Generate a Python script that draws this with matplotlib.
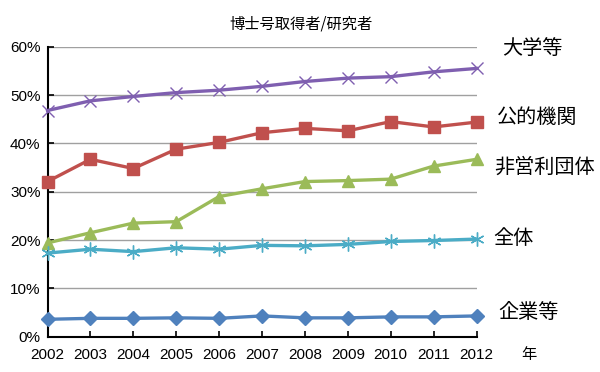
import matplotlib
matplotlib.use("Agg")
import matplotlib.pyplot as plt
from matplotlib.ticker import PercentFormatter

years = [2002, 2003, 2004, 2005, 2006, 2007, 2008, 2009, 2010, 2011, 2012]
univ = [46.8, 48.8, 49.7, 50.5, 51.0, 51.8, 52.8, 53.5, 53.8, 54.8, 55.5]
public = [32.1, 36.7, 34.8, 38.8, 40.2, 42.2, 43.1, 42.6, 44.5, 43.4, 44.4]
nonprofit = [19.4, 21.5, 23.5, 23.8, 29.0, 30.6, 32.1, 32.3, 32.6, 35.3, 36.7]
total = [17.3, 18.1, 17.6, 18.4, 18.1, 18.9, 18.8, 19.1, 19.7, 19.9, 20.2]
company = [3.6, 3.8, 3.8, 3.9, 3.8, 4.3, 3.9, 3.9, 4.1, 4.1, 4.3]

labels = ["大学等", "公的機関", "非営利団体", "全体", "企業等"]
title = "博士号取得者/研究者"
xlabel = "年"
yticks = [0, 10, 20, 30, 40, 50, 60]

W, H = 600, 372
fig = plt.figure(figsize=(W / 100, H / 100), dpi=100)
ax = fig.add_axes([47.5 / W, 1 - 336.7 / H, (476.5 - 47.5) / W, (336.7 - 46.7) / H])

cjk = ["Noto Sans CJK JP", "DejaVu Sans"]
num = ["Liberation Sans", "DejaVu Sans"]

series = [
    (univ, "#7F5FB0", "x", 9),
    (public, "#C0504D", "s", 8),
    (nonprofit, "#9BBB59", "^", 9),
    (total, "#4BACC6", (6, 2, 0), 10),
    (company, "#4F81BD", "D", 7),
]
for vals, col, mk, ms in series:
    filled = mk in ("s", "^", "D")
    ax.plot(years, vals, color=col, lw=2.4, marker=mk, ms=ms,
            markerfacecolor=col if filled else "none",
            markeredgecolor=col, markeredgewidth=1.0,
            clip_on=False, zorder=3)

ax.set_xlim(2002, 2012)
ax.set_ylim(0, 60)
ax.set_xticks(years)
ax.set_yticks(yticks)
ax.yaxis.set_major_formatter(PercentFormatter(decimals=0))
ax.grid(axis="y", color="#A0A0A0", lw=1.0)
ax.set_axisbelow(True)
for s in ["top", "right"]:
    ax.spines[s].set_visible(False)
for s in ["left", "bottom"]:
    ax.spines[s].set_linewidth(1.5)
    ax.spines[s].set_color("black")
ax.tick_params(axis="both", direction="in", length=4, width=1.2, colors="black", labelsize=11)
ax.tick_params(axis="x", pad=8)
ax.tick_params(axis="y", pad=5)
for lab in ax.get_xticklabels() + ax.get_yticklabels():
    lab.set_family(num)

def ft(x, y, s, size, ha="left"):
    fig.text(x / W, 1 - y / H, s, fontsize=size, family=cjk, ha=ha, va="center", color="black")

ft(301, 24, title, 11, ha="center")
label_pos = [(502, 48), (497, 117), (494, 167), (493, 239), (498, 312)]
for (x, y), s in zip(label_pos, labels):
    ft(x, y, s, 14.5)
ft(521, 355, xlabel, 11)

fig.savefig("out.png", dpi=100)
